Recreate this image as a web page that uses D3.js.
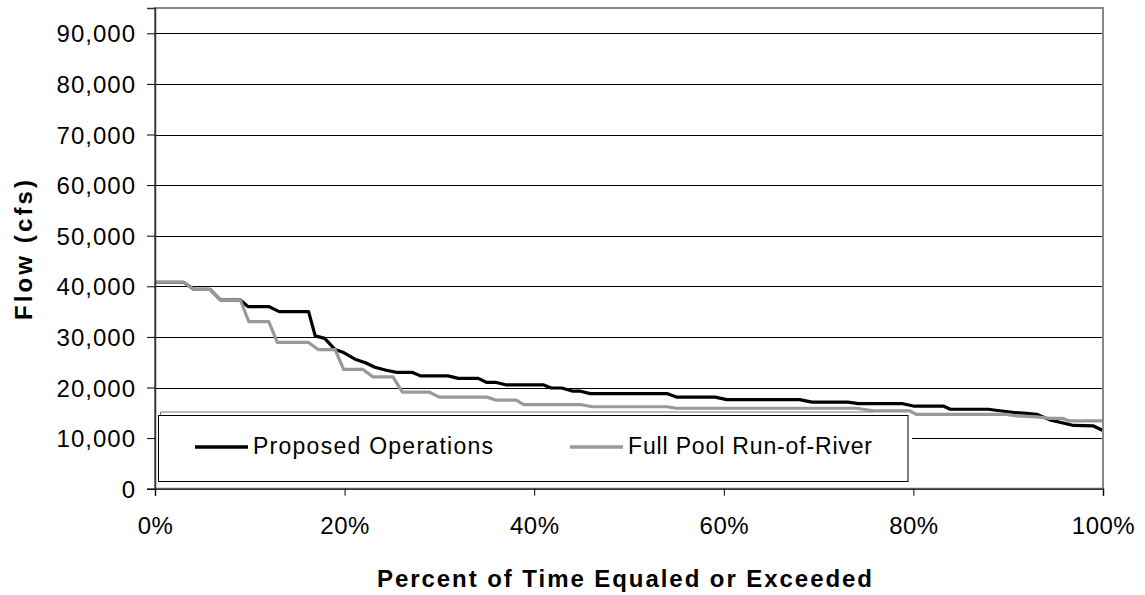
<!DOCTYPE html>
<html><head><meta charset="utf-8">
<script src="https://cdn.jsdelivr.net/npm/d3@7"></script>
<style>
html,body{margin:0;padding:0;background:#fff;}
svg{display:block;font-family:"Liberation Sans",Arial,sans-serif;}
</style></head>
<body><svg id="chart" width="1145" height="595"></svg>
<script>
// ---- data ----
const seriesNames = ["Proposed Operations", "Full Pool Run-of-River"];
const propPct = [0,3.0,4.1,5.8,6.9,9.0,9.8,12.0,13.1,16.2,16.9,17.9,19.0,19.9,21.1,22.2,23.2,24.4,25.5,27.1,28.0,30.9,32.0,34.1,35.0,36.0,37.1,41.0,41.8,42.9,44.0,44.8,45.9,54.0,55.0,59.1,60.3,68.0,69.3,73.1,74.2,78.9,80.1,83.2,83.9,87.9,89.1,90.5,91.9,93.0,94.4,96.9,99.0,100];
const propFlow = [40800,40800,39400,39400,37300,37300,36000,36000,35000,35000,30200,29700,27500,26900,25600,24900,24000,23400,23000,23000,22300,22300,21800,21800,21000,21000,20500,20500,19900,19900,19300,19300,18800,18800,18100,18100,17600,17600,17100,17100,16800,16800,16300,16300,15700,15700,15400,15100,14900,14700,13600,12500,12400,11500];
const poolPct = [0,3.0,4.1,5.8,6.9,9.0,9.9,12.0,12.9,16.2,17.2,19.0,19.9,21.9,23.0,25.1,26.1,28.9,30.0,35.0,36.0,38.1,38.9,45.0,46.1,54.0,55.0,74.0,75.8,79.6,80.3,89.8,90.9,93.0,94.4,95.7,96.5,100];
const poolFlow = [40800,40800,39400,39400,37300,37300,33000,33000,28900,28900,27500,27500,23600,23600,22100,22100,19100,19100,18100,18100,17500,17500,16600,16600,16200,16200,15900,15900,15400,15400,14700,14700,14400,14200,13900,13900,13400,13400];
const yTicks = [0,10000,20000,30000,40000,50000,60000,70000,80000,90000];
const xTicks = [0,20,40,60,80,100];
const xTitle = "Percent of Time Equaled or Exceeded";
const yTitle = "Flow (cfs)";

// ---- layout ----
const svg = d3.select("#chart");
const x = d3.scaleLinear().domain([0,100]).range([155,1103]);
const y = d3.scaleLinear().domain([0,95000]).range([488.7,8]);

// gridlines
svg.append("g").selectAll("line").data(yTicks.filter(d=>d>0)).join("line")
  .attr("x1",x(0)).attr("x2",x(100))
  .attr("y1",d=>Math.round(y(d))+0.5).attr("y2",d=>Math.round(y(d))+0.5)
  .attr("stroke","#000").attr("stroke-width",1);

// series
const line = d3.line().x(d=>x(d[0])).y(d=>y(d[1]));
const propData = propPct.map((p,i)=>[p,propFlow[i]]);
const poolData = poolPct.map((p,i)=>[p,poolFlow[i]]);
svg.append("path").datum(propData).attr("d",line)
  .attr("fill","none").attr("stroke","#000").attr("stroke-width",3.2)
  .attr("stroke-linejoin","round");
svg.append("path").datum(poolData).attr("d",line)
  .attr("fill","none").attr("stroke","#999").attr("stroke-width",3.2)
  .attr("stroke-linejoin","round");

// legend
const lg = svg.append("g");
lg.append("rect").attr("x",156).attr("y",414).attr("width",756).attr("height",69).attr("fill","#fff");
lg.append("path").attr("d","M160.5,415 V412 H873").attr("fill","none").attr("stroke","#777").attr("stroke-width",1);
lg.append("rect").attr("x",158.5).attr("y",415.5).attr("width",749.5).attr("height",66)
  .attr("fill","#fff").attr("stroke","#000").attr("stroke-width",1);
const legItems = [
  {name:seriesNames[0], color:"#000", x0:195, x1:248, tx:253, tl:240},
  {name:seriesNames[1], color:"#999", x0:570, x1:623, tx:628, tl:244}
];
legItems.forEach(it=>{
  lg.append("line").attr("x1",it.x0).attr("x2",it.x1).attr("y1",447).attr("y2",447)
    .attr("stroke",it.color).attr("stroke-width",3.5);
  lg.append("text").attr("x",it.tx).attr("y",453.5).attr("font-size",23)
    .attr("textLength",it.tl).attr("lengthAdjust","spacing").attr("fill","#000").text(it.name);
});

// plot border
svg.append("rect").attr("x",155).attr("y",8).attr("width",948).attr("height",480.7)
  .attr("fill","none").attr("stroke","#888").attr("stroke-width",2);

// axes
const yAxis = svg.append("g").attr("transform","translate(155,0)")
  .call(d3.axisLeft(y).tickValues(yTicks).tickFormat(d3.format(",")).tickSize(8).tickPadding(11));
yAxis.select(".domain").attr("stroke","#333").attr("stroke-width",1.5);
yAxis.selectAll(".tick line").attr("stroke","#000");
yAxis.selectAll("text").attr("font-size",24).attr("font-family","Liberation Sans, Arial, sans-serif")
  .attr("fill","#000").style("letter-spacing","1px").attr("dy","0.36em");

const xAxis = svg.append("g").attr("transform","translate(0,488.7)")
  .call(d3.axisBottom(x).tickValues(xTicks).tickFormat(d=>d+"%").tickSize(7).tickPadding(21));
xAxis.select(".domain").attr("stroke","#333").attr("stroke-width",1.5);
xAxis.selectAll(".tick line").attr("stroke","#000");
xAxis.selectAll("text").attr("font-size",24).attr("font-family","Liberation Sans, Arial, sans-serif")
  .attr("fill","#000").style("letter-spacing","0.5px");

// titles
svg.append("text").attr("x",624.5).attr("y",586.5).attr("text-anchor","middle")
  .attr("font-size",24).attr("font-weight","bold").attr("textLength",495).attr("lengthAdjust","spacing")
  .text(xTitle);
svg.append("text").attr("transform","translate(31.5,250) rotate(-90)").attr("text-anchor","middle")
  .attr("font-size",24).attr("font-weight","bold").attr("textLength",140).attr("lengthAdjust","spacing")
  .text(yTitle);
</script></body></html>
